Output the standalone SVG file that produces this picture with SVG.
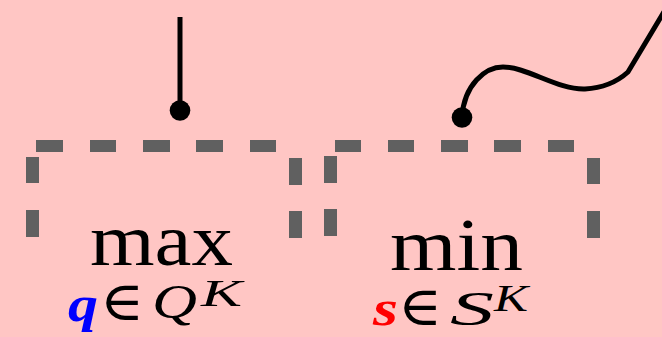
<svg xmlns="http://www.w3.org/2000/svg" width="662" height="337" viewBox="0 0 662 337">
<style>
.bg{fill:#ffc6c4}
.d{fill:#606060}
.wire{fill:none;stroke:#000;stroke-width:5}
.dot{fill:#000}
.op{font-family:"Liberation Serif","DejaVu Serif",serif;font-size:75px;fill:#000}
.it{font-family:"Liberation Serif","DejaVu Serif",serif;font-style:italic;fill:#000}
.sym{font-family:"DejaVu Serif","Liberation Serif",serif;fill:#000;font-size:52px;text-anchor:middle}
.bv{font-family:"Liberation Serif","DejaVu Serif",serif;font-style:italic;font-weight:bold;font-size:50px}
</style>
<rect class="bg" x="0" y="0" width="662" height="337"/>
<g id="connectors">
<path class="wire" d="M180,17 V110"/>
<circle class="dot" cx="180" cy="110.5" r="10.3"/>
<path class="wire" d="M462,117 C464,85 485,67 503,67 C527,67 558,90 585,89 C604,88 618,81 628,72 L668,5"/>
<circle class="dot" cx="462" cy="117.5" r="10.3"/>
</g>
<g id="max-node">
<rect class="d" x="36" y="140" width="27" height="12"/>
<rect class="d" x="90" y="140" width="26" height="12"/>
<rect class="d" x="143" y="140" width="27" height="12"/>
<rect class="d" x="196" y="140" width="27" height="12"/>
<rect class="d" x="250" y="140" width="26" height="12"/>
<rect class="d" x="26" y="157" width="13" height="26"/>
<rect class="d" x="26" y="210" width="13" height="27"/>
<rect class="d" x="289" y="158" width="13" height="27"/>
<rect class="d" x="289" y="211" width="13" height="27"/>
<text class="op" x="90" y="265" textLength="143" lengthAdjust="spacingAndGlyphs">max</text>
<text class="bv" x="68" y="321" fill="#0000ff" textLength="30" lengthAdjust="spacingAndGlyphs">q</text>
<text class="sym" x="122" y="320" transform="translate(122,320) scale(1.15,1.05) translate(-122,-320)">∈</text>
<text class="it" x="152" y="318" font-size="48" textLength="45" lengthAdjust="spacingAndGlyphs">Q</text>
<text class="it" x="201" y="306" font-size="38" textLength="41" lengthAdjust="spacingAndGlyphs">K</text>
</g>
<g id="min-node">
<rect class="d" x="335" y="140" width="26" height="12"/>
<rect class="d" x="388" y="140" width="26" height="12"/>
<rect class="d" x="441" y="140" width="27" height="12"/>
<rect class="d" x="494" y="140" width="27" height="12"/>
<rect class="d" x="548" y="140" width="26" height="12"/>
<rect class="d" x="324" y="156" width="13" height="27"/>
<rect class="d" x="324" y="209" width="13" height="27"/>
<rect class="d" x="587" y="158" width="13" height="26"/>
<rect class="d" x="587" y="211" width="13" height="27"/>
<text class="op" x="390" y="270" textLength="133" lengthAdjust="spacingAndGlyphs">min</text>
<text class="bv" x="373" y="325" fill="#ff0000" textLength="25" lengthAdjust="spacingAndGlyphs">s</text>
<text class="sym" x="420" y="325" transform="translate(420,325) scale(1.15,1.05) translate(-420,-325)">∈</text>
<text class="it" x="450" y="325" font-size="48" textLength="44" lengthAdjust="spacingAndGlyphs">S</text>
<text class="it" x="494" y="311" font-size="38" textLength="34" lengthAdjust="spacingAndGlyphs">K</text>
</g>
</svg>
